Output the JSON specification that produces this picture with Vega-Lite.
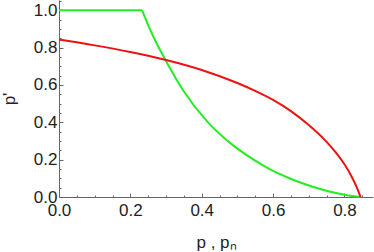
{
  "$schema": "https://vega.github.io/schema/vega-lite/v6.json",
  "width": 314,
  "height": 197,
  "autosize": "none",
  "padding": {"left": 59, "top": 0, "right": 1, "bottom": 55},
  "background": "white",
  "config": {
    "view": {"stroke": null},
    "font": "Liberation Sans",
    "axis": {
      "domainColor": "#666666",
      "tickColor": "#666666",
      "labelColor": "#222222",
      "titleColor": "#222222",
      "labelFont": "Liberation Sans",
      "titleFont": "Liberation Sans",
      "labelFontSize": 17,
      "titleFontSize": 17,
      "titleFontWeight": "normal",
      "grid": false
    }
  },
  "data": {
    "values": [
      {"c": "g", "s": "g1", "p": 0.0, "v": 1.0},
      {"c": "g", "s": "g1", "p": 0.233, "v": 1.0},
      {"c": "g", "s": "g2", "p": 0.233, "v": 1.0},
      {"c": "g", "s": "g2", "p": 0.26, "v": 0.877},
      {"c": "g", "s": "g2", "p": 0.298, "v": 0.735},
      {"c": "g", "s": "g2", "p": 0.35, "v": 0.565},
      {"c": "g", "s": "g2", "p": 0.415, "v": 0.405},
      {"c": "g", "s": "g2", "p": 0.489, "v": 0.275},
      {"c": "g", "s": "g2", "p": 0.55, "v": 0.195},
      {"c": "g", "s": "g2", "p": 0.592, "v": 0.148},
      {"c": "g", "s": "g2", "p": 0.644, "v": 0.102},
      {"c": "g", "s": "g2", "p": 0.69, "v": 0.068},
      {"c": "g", "s": "g2", "p": 0.737, "v": 0.04},
      {"c": "g", "s": "g2", "p": 0.78, "v": 0.02},
      {"c": "g", "s": "g2", "p": 0.815, "v": 0.007},
      {"c": "g", "s": "g2", "p": 0.845, "v": 0.0},
      {"c": "r", "s": "r", "p": 0.0, "v": 0.843},
      {"c": "r", "s": "r", "p": 0.1, "v": 0.812},
      {"c": "r", "s": "r", "p": 0.2, "v": 0.7765},
      {"c": "r", "s": "r", "p": 0.3, "v": 0.734},
      {"c": "r", "s": "r", "p": 0.4, "v": 0.6805},
      {"c": "r", "s": "r", "p": 0.5, "v": 0.6105},
      {"c": "r", "s": "r", "p": 0.55, "v": 0.568},
      {"c": "r", "s": "r", "p": 0.6, "v": 0.52},
      {"c": "r", "s": "r", "p": 0.65, "v": 0.46},
      {"c": "r", "s": "r", "p": 0.7, "v": 0.385},
      {"c": "r", "s": "r", "p": 0.75, "v": 0.295},
      {"c": "r", "s": "r", "p": 0.775, "v": 0.24},
      {"c": "r", "s": "r", "p": 0.8, "v": 0.175},
      {"c": "r", "s": "r", "p": 0.82, "v": 0.11},
      {"c": "r", "s": "r", "p": 0.835, "v": 0.05},
      {"c": "r", "s": "r", "p": 0.845, "v": 0.0}
    ]
  },
  "mark": {"type": "line", "strokeWidth": 2, "interpolate": "monotone", "clip": false},
  "encoding": {
    "x": {
      "field": "p",
      "type": "quantitative",
      "scale": {"domain": [0, 0.88], "nice": false, "zero": false},
      "axis": {
        "title": "p ,  pₙ",
        "titlePadding": 14,
        "values": [0, 0.05, 0.1, 0.15, 0.2, 0.25, 0.3, 0.35, 0.4, 0.45, 0.5, 0.55, 0.6, 0.65, 0.7, 0.75, 0.8, 0.85],
        "labelExpr": "abs(datum.value*5 - round(datum.value*5)) < 1e-6 ? format(datum.value, '.1f') : ''",
        "tickSize": {"condition": {"test": "abs(datum.value*5 - round(datum.value*5)) < 1e-6", "value": -4}, "value": -2},
        "labelPadding": 9,
        "labelFlush": false,
        "labelOverlap": false
      }
    },
    "y": {
      "field": "v",
      "type": "quantitative",
      "scale": {"domain": [0, 1.055], "nice": false, "zero": false},
      "axis": {
        "title": "p'",
        "titlePadding": 15,
        "values": [0, 0.05, 0.1, 0.15, 0.2, 0.25, 0.3, 0.35, 0.4, 0.45, 0.5, 0.55, 0.6, 0.65, 0.7, 0.75, 0.8, 0.85, 0.9, 0.95, 1.0, 1.05],
        "labelExpr": "abs(datum.value*5 - round(datum.value*5)) < 1e-6 ? format(datum.value, '.1f') : ''",
        "tickSize": {"condition": {"test": "abs(datum.value*5 - round(datum.value*5)) < 1e-6", "value": -4}, "value": -2},
        "labelPadding": 6,
        "labelFlush": false,
        "labelOverlap": false
      }
    },
    "color": {
      "field": "c",
      "type": "nominal",
      "scale": {"domain": ["g", "r"], "range": ["#22EE22", "#EE1111"]},
      "legend": null
    },
    "detail": {"field": "s", "type": "nominal"},
    "order": {"field": "p", "type": "quantitative"}
  }
}
